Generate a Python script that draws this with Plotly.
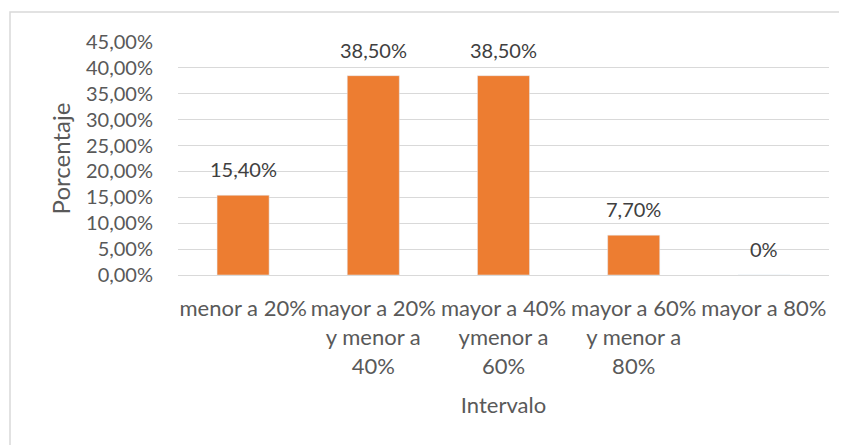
import plotly.graph_objects as go

categories = ["menor a 20%", "mayor a 20%<br>y menor a<br>40%", "mayor a 40%<br>ymenor a<br>60%",
              "mayor a 60%<br>y menor a<br>80%", "mayor a 80%"]
values = [15.4, 38.5, 38.5, 7.7, 0.0]
value_labels = ["15,40%", "38,50%", "38,50%", "7,70%", "0%"]
tick_vals = [0, 5, 10, 15, 20, 25, 30, 35, 40, 45]
tick_text = ["0,00%", "5,00%", "10,00%", "15,00%", "20,00%", "25,00%", "30,00%", "35,00%", "40,00%", "45,00%"]

# page body has an 8px margin, so the figure is drawn 8px smaller
W, H = 839, 437
ML, MR, MT, MB = 170, 18, 34, 170
FONT = "Lato"

fig = go.Figure()
fig.add_trace(go.Bar(
    x=categories, y=values, marker_color="#ED7D31", width=0.4, hoverinfo="skip",
))
for c, v, t in zip(categories, values, value_labels):
    fig.add_annotation(x=c, y=v, text=t, showarrow=False, yanchor="bottom", yshift=12,
                       font=dict(family=FONT, size=20, color="#404040"))

pw = W - ML - MR
ph = H - MT - MB
fig.update_layout(
    width=W, height=H, margin=dict(l=ML, r=MR, t=MT, b=MB),
    paper_bgcolor="white", plot_bgcolor="white", showlegend=False,
    font=dict(family=FONT, size=20, color="#595959"),
    xaxis=dict(title=dict(text="Intervalo", font=dict(size=22, color="#595959"), standoff=20),
               tickfont=dict(size=22, color="#595959"), showline=True, linecolor="#D9D9D9",
               linewidth=1, ticks="", ticklabelstandoff=14, automargin=False, tickangle=0),
    yaxis=dict(title=dict(text="Porcentaje", font=dict(size=24, color="#595959"), standoff=8),
               range=[0, 45], tickvals=tick_vals, ticktext=tick_text,
               tickfont=dict(size=20, color="#595959"), gridcolor="#D9D9D9", gridwidth=1,
               zeroline=False, showline=False, ticks="", ticklabelstandoff=24, automargin=False),
    shapes=[dict(type="rect", xref="paper", yref="paper",
                 x0=(2 - ML) / pw, x1=(W + 10 - ML) / pw,
                 y0=-(MB + 10) / ph, y1=1 + (MT - 4) / ph,
                 line=dict(color="#D9D9D9", width=1.5), layer="below")],
)
fig.write_html("out.html")
